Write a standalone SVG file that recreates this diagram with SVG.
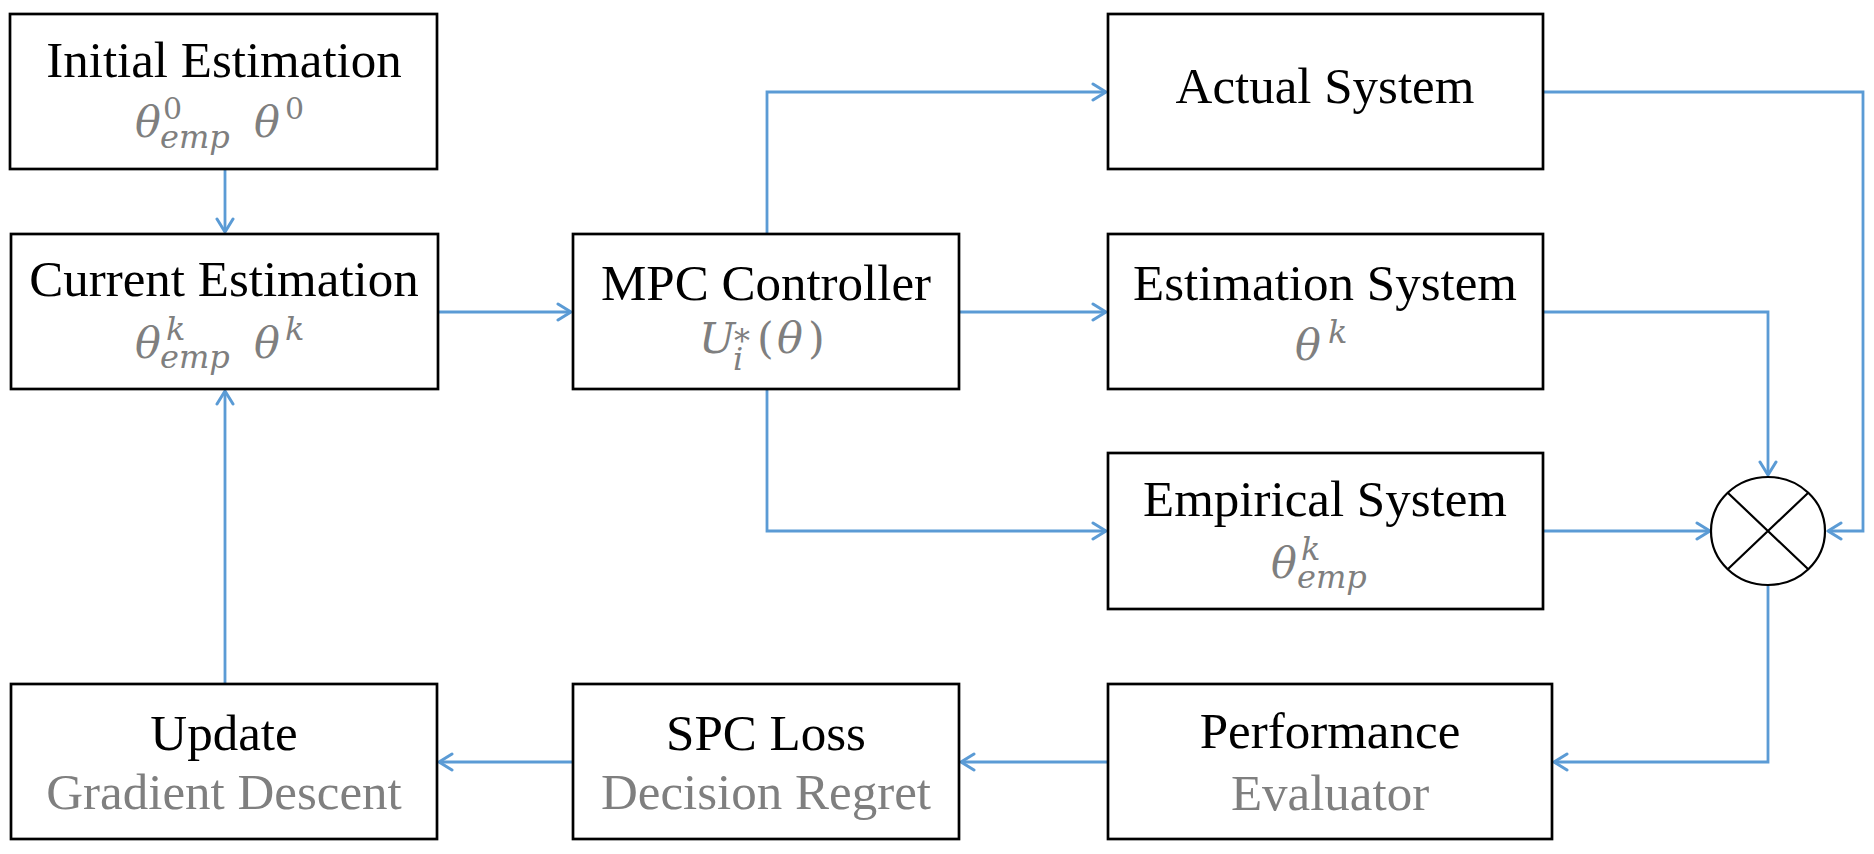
<svg xmlns="http://www.w3.org/2000/svg" width="1874" height="854" viewBox="0 0 1874 854">
<style>
.box{fill:#fff;stroke:#000;stroke-width:2.7}
.t{font-family:"Liberation Serif","Times New Roman",serif;font-size:51px;fill:#000;text-anchor:middle}
.g{font-family:"Liberation Serif","Times New Roman",serif;font-size:51px;fill:#7f7f7f;text-anchor:middle}
.m{font-family:"DejaVu Serif",serif;font-style:italic;font-size:43px;fill:#7f7f7f}
.s{font-size:32px}
.u{font-style:normal;font-size:30px}
.p{font-style:normal}
.c{fill:none;stroke:#5b9bd5;stroke-width:2.8;stroke-linejoin:miter}
</style>
<defs>
<marker id="ah" markerUnits="userSpaceOnUse" viewBox="-16 -11 18 22" markerWidth="18" markerHeight="22" refX="0" refY="0" orient="auto">
<path d="M-13,-8 L0,0 L-13,8" fill="none" stroke="#5b9bd5" stroke-width="3" stroke-linecap="round" stroke-linejoin="round"/>
</marker>
</defs>
<rect width="1874" height="854" fill="#fff"/>
<g id="connectors">
<path class="c" d="M225,169 V232" marker-end="url(#ah)"/>
<path class="c" d="M438,312 H571" marker-end="url(#ah)"/>
<path class="c" d="M767,234 V92 H1106" marker-end="url(#ah)"/>
<path class="c" d="M959,312 H1106" marker-end="url(#ah)"/>
<path class="c" d="M767,389 V531 H1106" marker-end="url(#ah)"/>
<path class="c" d="M1543,92 H1863 V531 H1828" marker-end="url(#ah)"/>
<path class="c" d="M1543,312 H1768 V475" marker-end="url(#ah)"/>
<path class="c" d="M1543,531 H1710" marker-end="url(#ah)"/>
<path class="c" d="M1768,586 V762 H1554" marker-end="url(#ah)"/>
<path class="c" d="M1108,762 H961" marker-end="url(#ah)"/>
<path class="c" d="M572,762 H439" marker-end="url(#ah)"/>
<path class="c" d="M225,684 V391" marker-end="url(#ah)"/>
</g>
<g id="initial">
<rect class="box" x="10" y="14" width="427" height="155"/>
<text class="t" x="224" y="77">Initial Estimation</text>
<text class="m"><tspan x="135" y="137">θ</tspan><tspan class="u" x="163" y="119">0</tspan><tspan class="s" x="160" y="148">emp</tspan><tspan x="254" y="137">θ</tspan><tspan class="u" x="285" y="119">0</tspan></text>
</g>
<g id="current">
<rect class="box" x="11" y="234" width="427" height="155"/>
<text class="t" x="224" y="296">Current Estimation</text>
<text class="m"><tspan x="135" y="358">θ</tspan><tspan class="s" x="166" y="340">k</tspan><tspan class="s" x="160" y="368">emp</tspan><tspan x="254" y="358">θ</tspan><tspan class="s" x="285" y="340">k</tspan></text>
</g>
<g id="mpc">
<rect class="box" x="573" y="234" width="386" height="155"/>
<text class="t" x="766" y="300">MPC Controller</text>
<text class="m"><tspan x="699" y="353">U</tspan><tspan class="p" x="734" y="352" style="font-size:32px">*</tspan><tspan class="s" x="733" y="370">i</tspan><tspan class="p" x="757" y="353">(</tspan><tspan x="777" y="353">θ</tspan><tspan class="p" x="808" y="353">)</tspan></text>
</g>
<g id="actual">
<rect class="box" x="1108" y="14" width="435" height="155"/>
<text class="t" x="1325" y="103">Actual System</text>
</g>
<g id="estimation">
<rect class="box" x="1108" y="234" width="435" height="155"/>
<text class="t" x="1325" y="300">Estimation System</text>
<text class="m"><tspan x="1295" y="360">θ</tspan><tspan class="s" x="1328" y="343">k</tspan></text>
</g>
<g id="empirical">
<rect class="box" x="1108" y="453" width="435" height="156"/>
<text class="t" x="1325" y="516">Empirical System</text>
<text class="m"><tspan x="1271" y="578">θ</tspan><tspan class="s" x="1301" y="560">k</tspan><tspan class="s" x="1297" y="588">emp</tspan></text>
</g>
<g id="mixer">
<ellipse cx="1768" cy="531" rx="57" ry="54" fill="#fff" stroke="#000" stroke-width="2.2"/>
<path d="M1728,493 L1808,569 M1808,493 L1728,569" stroke="#000" stroke-width="2.2" fill="none"/>
</g>
<g id="performance">
<rect class="box" x="1108" y="684" width="444" height="155"/>
<text class="t" x="1330" y="748">Performance</text>
<text class="g" x="1330" y="810">Evaluator</text>
</g>
<g id="spc">
<rect class="box" x="573" y="684" width="386" height="155"/>
<text class="t" x="766" y="750">SPC Loss</text>
<text class="g" x="766" y="809">Decision Regret</text>
</g>
<g id="update">
<rect class="box" x="11" y="684" width="426" height="155"/>
<text class="t" x="224" y="750">Update</text>
<text class="g" x="224" y="809">Gradient Descent</text>
</g>
</svg>
